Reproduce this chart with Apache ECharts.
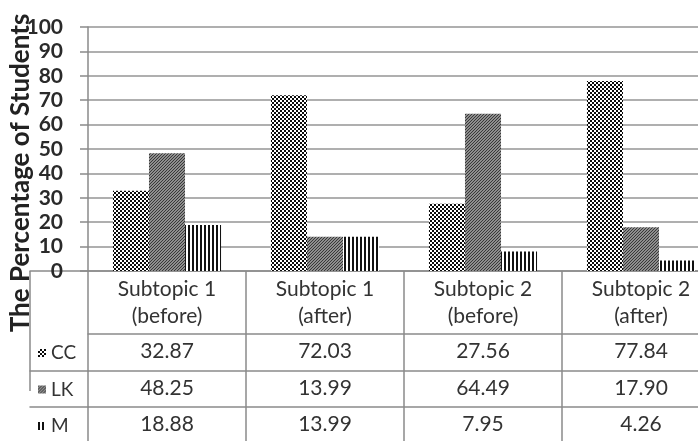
<!DOCTYPE html>
<html>
<head>
<meta charset="utf-8">
<script src="https://cdn.jsdelivr.net/npm/echarts@6/dist/echarts.min.js"></script>
<style>
  html, body { margin: 0; padding: 0; background: #fff; }
  #chart { width: 698px; height: 441px; }
</style>
</head>
<body>
<div id="chart"></div>
<script>
// Categories and values of the chart / data table
const categories = ['Subtopic 1\n(before)', 'Subtopic 1\n(after)', 'Subtopic 2\n(before)', 'Subtopic 2\n(after)'];
const seriesNames = ['CC', 'LK', 'M'];
const ccValues = [32.87, 72.03, 27.56, 77.84];
const lkValues = [48.25, 13.99, 64.49, 17.90];
const mValues = [18.88, 13.99, 7.95, 4.26];
const yAxisTitle = 'The Percentage of Students';
const yMin = 0, yMax = 100, yStep = 10;

// ---- fill patterns -------------------------------------------------------
function makeTile(w, h, painter) {
  const c = document.createElement('canvas');
  c.width = w; c.height = h;
  const ctx = c.getContext('2d');
  for (let y = 0; y < h; y++) {
    for (let x = 0; x < w; x++) {
      ctx.fillStyle = painter(x, y);
      ctx.fillRect(x, y, 1, 1);
    }
  }
  return { image: c, repeat: 'repeat' };
}
// checker board of 2px cells
const checkerFill = makeTile(4, 4, (x, y) => (((x >> 1) + (y >> 1)) % 2 === 0 ? '#ffffff' : '#0a0a0a'));
// fine diagonal hatch
const hatchFill = makeTile(3, 3, (x, y) => ((x + y) % 3 === 0 ? '#383838' : '#8e8e8e'));
// vertical stripes
const stripeFill = makeTile(4, 1, (x) => (x < 2 ? '#111111' : '#ffffff'));

const fills = [checkerFill, hatchFill, stripeFill];
const valueRows = [ccValues, lkValues, mValues];

// ---- layout --------------------------------------------------------------
const FONT = 'Lato';
const LINE = '#8a8a8a';
const headerHeight = 63;
const rowHeight = 36.5;
const rowOffsets = valueRows.map((_, i) => headerHeight + i * rowHeight);

const plotGrid = { left: 88, top: 27, width: 632, height: 244, outerBoundsMode: 'none' };
const legendGrid = { left: 30, top: 27, width: 58, height: 244, outerBoundsMode: 'none' };

const xAxes = [
  {
    type: 'category', gridIndex: 0, data: categories, position: 'bottom', boundaryGap: true,
    axisLine: { lineStyle: { color: LINE, width: 1.5 } },
    axisTick: { show: true, length: 180, lineStyle: { color: LINE, width: 1.5 } },
    axisLabel: { interval: 0, fontFamily: FONT, fontSize: 21, color: '#333', lineHeight: 27, margin: 5 }
  }
];
// one extra axis per table row: its line is the row border, its labels the values
valueRows.forEach((vals, i) => {
  xAxes.push({
    type: 'category', gridIndex: 0, data: vals.map(v => v.toFixed(2)), position: 'bottom',
    offset: rowOffsets[i],
    axisLine: { lineStyle: { color: LINE, width: 1.5 } },
    axisTick: { show: false },
    axisLabel: { interval: 0, fontFamily: FONT, fontSize: 21, color: '#333', lineHeight: 21, margin: 7 }
  });
});
// legend column borders
valueRows.forEach((_, i) => {
  xAxes.push({
    type: 'category', gridIndex: 1, data: [''], position: 'bottom', boundaryGap: true,
    offset: rowOffsets[i],
    axisLine: { lineStyle: { color: LINE, width: 1.5 } },
    axisTick: { show: i === 0, length: 120, lineStyle: { color: LINE, width: 1.5 } },
    axisLabel: { show: false }
  });
});

const option = {
  animation: false,
  backgroundColor: '#ffffff',
  grid: [plotGrid, legendGrid],
  legend: {
    orient: 'vertical', left: 38, top: 343, height: 98, padding: 0,
    itemWidth: 8, itemHeight: 8, itemGap: 16.5, icon: 'rect',
    selectedMode: false,
    data: seriesNames,
    textStyle: { fontFamily: FONT, fontSize: 19, color: '#333', lineHeight: 20 }
  },
  xAxis: xAxes,
  yAxis: [
    {
      type: 'value', gridIndex: 0, min: yMin, max: yMax, interval: yStep,
      axisLine: { show: true, lineStyle: { color: LINE, width: 1.5 } },
      axisTick: { show: true, length: 8, lineStyle: { color: LINE, width: 1.5 } },
      splitLine: { lineStyle: { color: '#959595', width: 1.5 } },
      axisLabel: { fontFamily: FONT, fontSize: 21, fontWeight: 'bold', color: '#2a2a2a', margin: 25 }
    },
    { type: 'value', gridIndex: 1, show: false }
  ],
  graphic: [
    {
      type: 'text', x: 21, y: 173, rotation: Math.PI / 2,
      style: {
        text: yAxisTitle, fill: '#222', align: 'center', verticalAlign: 'middle',
        font: 'bold 26px Lato'
      }
    }
  ],
  series: seriesNames.map((name, i) => ({
    name, type: 'bar', xAxisIndex: 0, yAxisIndex: 0,
    data: valueRows[i],
    barWidth: '22.8%', barGap: '0%',
    itemStyle: { color: fills[i] }
  }))
};

const chart = echarts.init(document.getElementById('chart'), null, { renderer: 'canvas' });
chart.setOption(option);
</script>
</body>
</html>
